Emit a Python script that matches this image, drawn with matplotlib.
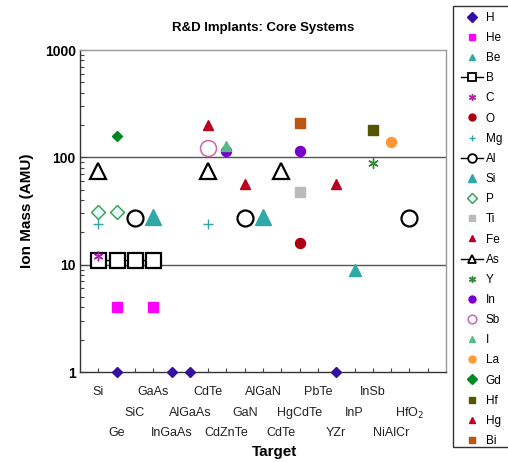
import numpy as np
import matplotlib
matplotlib.use("Agg")
import matplotlib.pyplot as plt
from matplotlib.lines import Line2D
from matplotlib.patches import Rectangle
from matplotlib.ticker import LogLocator, NullFormatter
import matplotlib.transforms as mtransforms

plt.rcParams['font.family'] = ['Liberation Sans', 'DejaVu Sans']

# ---- data ----
targets = ['Si', 'Ge', 'SiC', 'GaAs', 'InGaAs', 'AlGaAs', 'CdTe', 'CdZnTe', 'GaN',
           'AlGaN', 'CdTe', 'HgCdTe', 'PbTe', 'YZr', 'InP', 'InSb', 'NiAlCr', 'HfO$_2$']
label_rows = [0, 2, 1, 0, 2, 1, 0, 2, 1, 0, 2, 1, 0, 2, 1, 0, 2, 1]

species = ['H', 'He', 'Be', 'B', 'C', 'O', 'Mg', 'Al', 'Si', 'P', 'Ti', 'Fe', 'As',
           'Y', 'In', 'Sb', 'I', 'La', 'Gd', 'Hf', 'Hg', 'Bi']
masses = [1, 4, 9, 11, 12, 16, 24, 27, 28, 31, 48, 56, 75,
          89, 115, 122, 127, 139, 158, 178, 201, 209]
# target positions (1-based) where each ion species is implanted
occurrences = [[2, 5, 6, 14], [2, 4], [15], [1, 2, 3, 4], [1], [12], [1, 7], [3, 9, 18],
               [4, 10], [1, 2], [12], [9, 14], [1, 7, 11], [16], [8, 12], [7], [8], [17],
               [2], [16], [7], [12]]

# ---- styles ----
styles = {
    'H':  dict(marker='D', ms=5.5, mfc='#3310A0', mec='#3310A0'),
    'He': dict(marker='s', ms=7, mfc='#FF00FF', mec='#FF00FF'),
    'Be': dict(marker='^', ms=8, mfc='#2FA8A8', mec='#2FA8A8'),
    'B':  dict(marker='s', ms=10.8, mfc='white', mec='black', mew=1.6, ls='-', color='black', lw=1),
    'C':  dict(marker=(6, 2, 0), ms=7, mfc='#B020B0', mec='#B020B0', mew=1),
    'O':  dict(marker='o', ms=7.2, mfc='#AA0011', mec='#AA0011'),
    'Mg': dict(marker='+', ms=7.5, mfc='#30A8A8', mec='#30A8A8', mew=1),
    'Al': dict(marker='o', ms=11.5, mfc='white', mec='black', mew=1.6, ls='-', color='black', lw=1),
    'Si': dict(marker='^', ms=11.5, mfc='#2FA8A8', mec='#2FA8A8'),
    'P':  dict(marker='D', ms=7.6, mfc='#E4FAF8', mec='#3A9A55', mew=1),
    'Ti': dict(marker='s', ms=7, mfc='#BBBBBB', mec='#BBBBBB'),
    'Fe': dict(marker='^', ms=7.2, mfc='#BB0020', mec='#BB0020'),
    'As': dict(marker='^', ms=11.5, mfc='white', mec='black', mew=1.6, ls='-', color='black', lw=1),
    'Y':  dict(marker=(6, 2, 0), ms=7.5, mfc='#338833', mec='#338833', mew=1),
    'In': dict(marker='o', ms=7.2, mfc='#7700CC', mec='#7700CC'),
    'Sb': dict(marker='o', ms=11.5, mfc='white', mec='#CC66AA', mew=1.1),
    'I':  dict(marker='^', ms=7.2, mfc='#55BB88', mec='#55BB88'),
    'La': dict(marker='o', ms=7.2, mfc='#FF9933', mec='#FF9933'),
    'Gd': dict(marker='D', ms=5, mfc='#008822', mec='#008822'),
    'Hf': dict(marker='s', ms=7, mfc='#555500', mec='#555500'),
    'Hg': dict(marker='^', ms=7.2, mfc='#BB0020', mec='#BB0020'),
    'Bi': dict(marker='s', ms=7, mfc='#BB5511', mec='#BB5511'),
}

fig = plt.figure(figsize=(5.08, 4.62), dpi=100)
ax = fig.add_axes([80 / 508, 1 - 372 / 462, 366 / 508, 322 / 462])

x = np.arange(1, len(targets) + 1)
handles = []
for name, m, occ in zip(species, masses, occurrences):
    y = np.array([m if i in occ else np.nan for i in x], dtype=float)
    st = dict(styles[name])
    st.setdefault('ls', 'none')
    ax.plot(x, y, label=name, clip_on=False, zorder=3, **st)
    hst = dict(st)
    big = hst['ms'] > 10
    hst['ms'] = 6.2 if big else 5
    if hst.get('mew', 1) > 1.2:
        hst['mew'] = 1.3
    handles.append(Line2D([], [], **hst))

ax.set_yscale('log')
ax.set_ylim(1, 1000)
ax.set_xlim(0, 20)
ax.set_yticks([1, 10, 100, 1000])
ax.set_yticklabels(['1', '10', '100', '1000'], fontweight='bold', fontsize=10)
ax.yaxis.set_minor_locator(LogLocator(base=10, subs=np.arange(2, 10)))
ax.yaxis.set_minor_formatter(NullFormatter())
ax.set_xticks(np.arange(1, 20))
ax.set_xticklabels([])
ax.tick_params(axis='x', direction='in', length=3, width=0.8, color='#444444')
ax.tick_params(axis='y', which='major', direction='in', length=5, width=0.8, color='#444444', pad=3)
ax.tick_params(axis='y', which='minor', direction='in', length=3, width=0.8, color='#444444')

for v in [10, 100]:
    ax.axhline(v, color='#555555', lw=1.0, zorder=1)

for side in ['left', 'bottom']:
    ax.spines[side].set_color('#333333')
    ax.spines[side].set_linewidth(1.0)
for side in ['top', 'right']:
    ax.spines[side].set_color('#999999')
    ax.spines[side].set_linewidth(1.0)

trans = mtransforms.blended_transform_factory(ax.transData, ax.transAxes)
row_offsets = [-20, -41, -61]
for xi, lab, r in zip(x, targets, label_rows):
    ax.annotate(lab, xy=(xi, 0), xycoords=trans, xytext=(0, row_offsets[r]),
                textcoords='offset pixels', ha='center', va='center', fontsize=9,
                color='#222222')

ax.set_title('R&D Implants: Core Systems', fontsize=9.5, fontweight='bold', pad=14)
ax.set_ylabel('Ion Mass (AMU)', fontsize=11, fontweight='bold', labelpad=8)
fig.text(275 / 508, 1 - 452 / 462, 'Target', fontsize=11, fontweight='bold',
         ha='center', va='center')

leg = fig.legend(handles=handles, labels=species, loc='upper left',
                 bbox_to_anchor=(455 / 508, 1 - 6 / 462), borderaxespad=0,
                 fontsize=8.5, handlelength=1.9, handletextpad=0.2, labelspacing=0.69,
                 borderpad=0.5, frameon=False)
# legend box (extends past the right edge of the figure, as in the reference)
fig.patches.append(Rectangle((453 / 508, 1 - 447 / 462), 80 / 508, 441 / 462,
                             transform=fig.transFigure, fill=False,
                             edgecolor='#333333', lw=1.0, zorder=0))

fig.savefig('out.png', dpi=100)
